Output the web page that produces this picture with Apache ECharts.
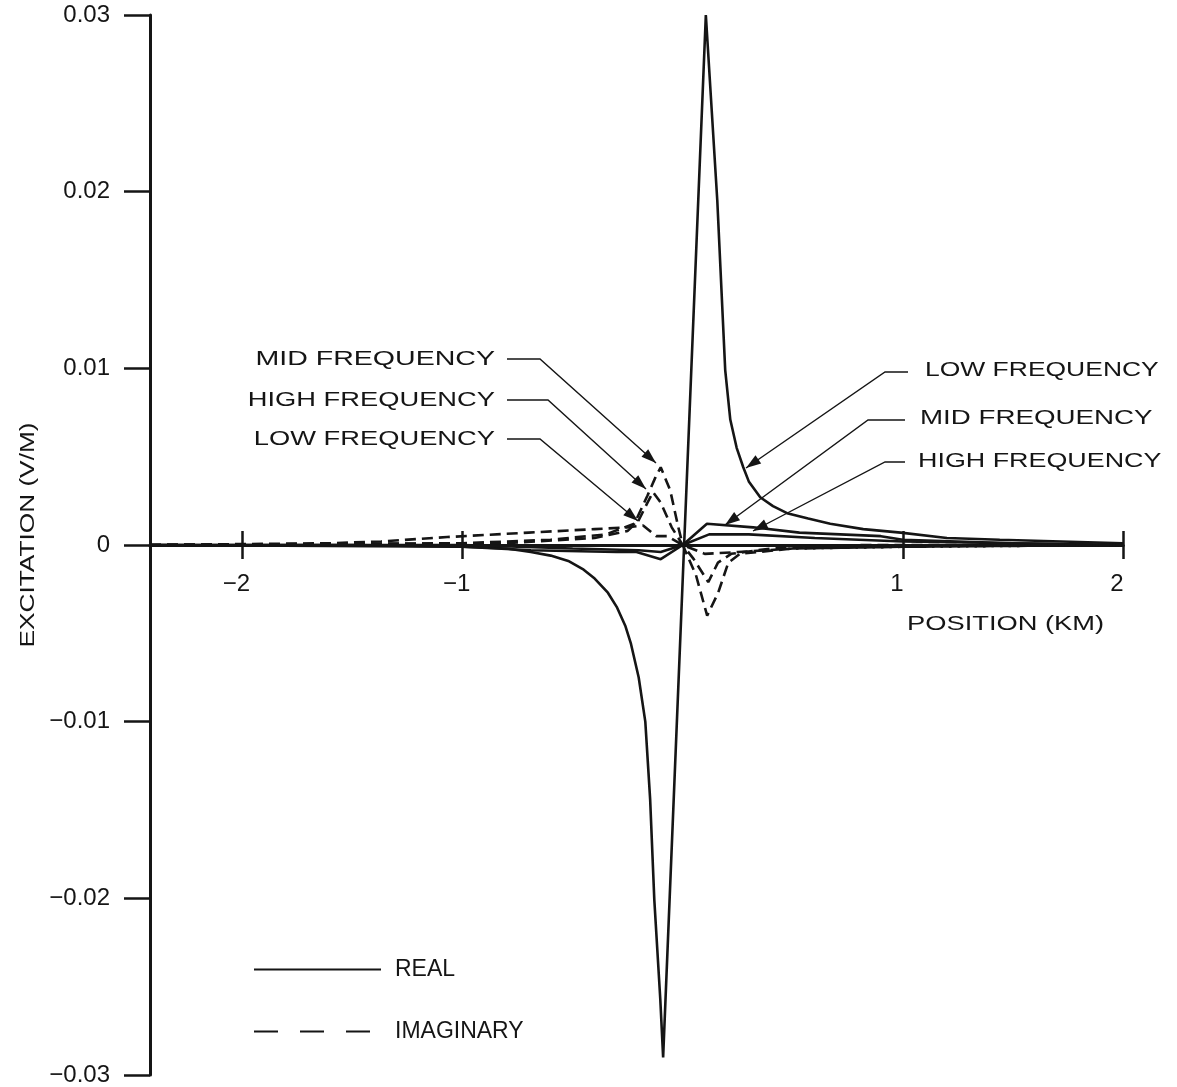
<!DOCTYPE html>
<html>
<head>
<meta charset="utf-8">
<title>Excitation vs position</title>
<script src="https://cdn.jsdelivr.net/npm/echarts@6/dist/echarts.min.js"></script>
<style>
  html, body { margin: 0; padding: 0; background: #fff; }
  #chart { width: 1177px; height: 1087px; }
</style>
</head>
<body>
<div id="chart"></div>
<script>
// position (km), excitation (V/M)
const lowReal = [
  [-2.42, 0], [-1.5, 0], [-1.0, -0.0001], [-0.8, -0.0002], [-0.69, -0.0004],
  [-0.6, -0.0006], [-0.52, -0.0009], [-0.45, -0.0014], [-0.40, -0.0019],
  [-0.34, -0.0027], [-0.30, -0.0035], [-0.26, -0.0046], [-0.235, -0.0056],
  [-0.20, -0.0075], [-0.17, -0.0100], [-0.148, -0.0144], [-0.129, -0.0201],
  [-0.102, -0.0257], [-0.089, -0.0290], [0.105, 0.0300], [0.157, 0.0195],
  [0.193, 0.0099], [0.216, 0.0071], [0.245, 0.0055], [0.275, 0.0044],
  [0.30, 0.0036], [0.352, 0.0027], [0.41, 0.0022], [0.474, 0.0018],
  [0.57, 0.0015], [0.67, 0.0012], [0.82, 0.0009], [0.99, 0.0007],
  [1.2, 0.0004], [1.44, 0.0003], [2.0, 0.0001]
]
const midReal = [
  [-2.42, 0], [-1.0, -0.0001], [-0.69, -0.0003], [-0.3, -0.0004],
  [-0.21, -0.0004], [-0.1, -0.0008], [0.0, 0.0], [0.11, 0.0012],
  [0.32, 0.0010], [0.53, 0.0007], [0.9, 0.0005], [1.0, 0.0003],
  [1.5, 0.0001], [2.0, 0]
]
const highReal = [
  [-2.42, 0], [-1.0, 0], [-0.5, -0.0002], [-0.2, -0.0003], [-0.1, -0.0004],
  [0.0, 0.0], [0.12, 0.0006], [0.3, 0.0006], [0.6, 0.0004], [1.0, 0.0002],
  [2.0, 0]
]
const lowImag = [
  [-2.42, 0], [-1.6, 0.0001], [-1.37, 0.0002], [-1.07, 0.00045],
  [-0.7, 0.0007], [-0.4, 0.0009], [-0.25, 0.0010], [-0.18, 0.0011],
  [-0.12, 0.0005], [-0.07, 0.0005], [0.0, 0.0], [0.1, -0.0005],
  [0.25, -0.0004], [0.5, -0.0002], [1.0, -0.0001], [2.0, 0]
]
const midImag = [
  [-2.42, 0], [-1.0, 0.0001], [-0.6, 0.0003], [-0.35, 0.0006],
  [-0.22, 0.0012], [-0.16, 0.0028], [-0.125, 0.0038], [-0.10, 0.0044],
  [-0.057, 0.0031], [-0.02, 0.0010], [0.0, 0.0], [0.06, -0.0017],
  [0.111, -0.0040], [0.161, -0.0027], [0.207, -0.0010], [0.26, -0.0005],
  [0.5, -0.0002], [1.0, -0.0001], [2.0, 0]
]
const highImag = [
  [-2.42, 0], [-0.8, 0.0001], [-0.4, 0.0004], [-0.25, 0.0008],
  [-0.2, 0.0014], [-0.16, 0.0024], [-0.135, 0.0030], [-0.1, 0.0024],
  [-0.05, 0.0010], [0.0, 0.0], [0.05, -0.0008], [0.116, -0.0021],
  [0.16, -0.0010], [0.22, -0.0005], [0.4, -0.0002], [0.8, 0], [2.0, 0]
]
const xTicks = [-2, -1, 1, 2]

const INK = '#151515'
const FONT = "'Liberation Sans', Arial, sans-serif"

const chart = echarts.init(document.getElementById('chart'))

function curve(name, data, dashed) {
  return {
    name: name,
    type: 'line',
    data: data,
    symbol: 'none',
    silent: true,
    lineStyle: { color: INK, width: 2.6, type: dashed ? [11, 6] : 'solid' }
  }
}

// leader line with a filled arrow head at the tip
function leader(pts) {
  const n = pts.length
  const tip = pts[n - 1], prev = pts[n - 2]
  const a = Math.atan2(tip[1] - prev[1], tip[0] - prev[0])
  const len = 15, half = 5
  const bx = tip[0] - len * Math.cos(a), by = tip[1] - len * Math.sin(a)
  const head = [
    tip,
    [bx + half * Math.sin(a), by - half * Math.cos(a)],
    [bx - half * Math.sin(a), by + half * Math.cos(a)]
  ]
  return [
    { type: 'polyline', silent: true, shape: { points: pts },
      style: { stroke: INK, lineWidth: 1.4, fill: null } },
    { type: 'polygon', silent: true, shape: { points: head },
      style: { fill: INK } }
  ]
}

function label(text, x, y, align, sx) {
  return {
    type: 'text', x: x, y: y, scaleX: sx, silent: true,
    style: { text: text, fill: INK, font: '21px ' + FONT,
      align: align, verticalAlign: 'middle' }
  }
}

const graphics = [].concat(
  label('MID FREQUENCY', 495, 359, 'right', 1.36),
  label('HIGH FREQUENCY', 495, 400, 'right', 1.3),
  label('LOW FREQUENCY', 495, 439, 'right', 1.3),
  label('LOW FREQUENCY', 925, 370, 'left', 1.26),
  label('MID FREQUENCY', 920, 418, 'left', 1.32),
  label('HIGH FREQUENCY', 918, 461, 'left', 1.28),
  leader([[507, 359], [540, 359], [656, 463]]),
  leader([[507, 400], [548, 400], [646, 489]]),
  leader([[507, 439], [540, 439], [638, 521]]),
  leader([[908, 372], [885, 372], [746, 468]]),
  leader([[905, 420], [868, 420], [725, 525]]),
  leader([[905, 462], [885, 462], [753, 531]]),
  [{
    type: 'text', x: 28, y: 535, rotation: Math.PI / 2, scaleX: 1.25, silent: true,
    style: { text: 'EXCITATION (V/M)', fill: INK, font: '21px ' + FONT,
      align: 'center', verticalAlign: 'middle' }
  }, {
    type: 'text', x: 907, y: 624, scaleX: 1.3, silent: true,
    style: { text: 'POSITION (KM)', fill: INK, font: '21px ' + FONT,
      align: 'left', verticalAlign: 'middle' }
  }]
)

// both x axes sit on y = 0 (half the grid height up from the bottom edge);
// one carries the downward tick halves and the labels, the other the upward halves
const axisCommon = {
  type: 'value',
  min: -2.42,
  max: 2,
  position: 'bottom',
  offset: -530,
  splitLine: { show: false },
  axisLine: { show: true, onZero: false, lineStyle: { color: INK, width: 3 } }
}

const option = {
  backgroundColor: '#fff',
  animation: false,
  grid: { left: 150, right: 54, top: 15, bottom: 12, outerBoundsMode: 'none' },
  xAxis: [
    Object.assign({}, axisCommon, {
      axisTick: { show: true, customValues: xTicks, length: 14,
        lineStyle: { color: INK, width: 2.5 } },
      axisLabel: {
        customValues: xTicks, margin: 27, color: INK, fontSize: 24,
        fontFamily: FONT, padding: [0, 12, 0, 0],
        formatter: v => (v < 0 ? '\u2212' : '') + Math.abs(v)
      }
    }),
    Object.assign({}, axisCommon, {
      axisTick: { show: true, inside: true, customValues: xTicks, length: 14,
        lineStyle: { color: INK, width: 2.5 } },
      axisLabel: { show: false }
    })
  ],
  yAxis: {
    type: 'value',
    min: -0.03,
    max: 0.03,
    interval: 0.01,
    splitLine: { show: false },
    axisLine: { show: true, onZero: false, lineStyle: { color: INK, width: 3 } },
    axisTick: { show: true, length: 26, lineStyle: { color: INK, width: 2.5 } },
    axisLabel: {
      margin: 40, color: INK, fontSize: 24, fontFamily: FONT,
      formatter: v => v === 0 ? '0' : (v < 0 ? '\u2212' : '') + Math.abs(v).toFixed(2)
    }
  },
  legend: {
    data: [
      { name: 'REAL', lineStyle: { type: 'solid', width: 2 } },
      { name: 'IMAGINARY', lineStyle: { type: [24, 22], width: 2 } }
    ],
    orient: 'vertical',
    left: 248,
    top: 953,
    itemWidth: 127,
    itemHeight: 14,
    itemGap: 39,
    selectedMode: false,
    itemStyle: { opacity: 0 },
    textStyle: { color: INK, fontSize: 23, fontFamily: FONT, padding: [0, 0, 0, 9] }
  },
  graphic: graphics,
  series: [
    curve('REAL', [], false),
    curve('IMAGINARY', [], true),
    curve('low real', lowReal, false),
    curve('mid real', midReal, false),
    curve('high real', highReal, false),
    curve('low imaginary', lowImag, true),
    curve('mid imaginary', midImag, true),
    curve('high imaginary', highImag, true)
  ]
}

chart.setOption(option)
</script>
</body>
</html>
